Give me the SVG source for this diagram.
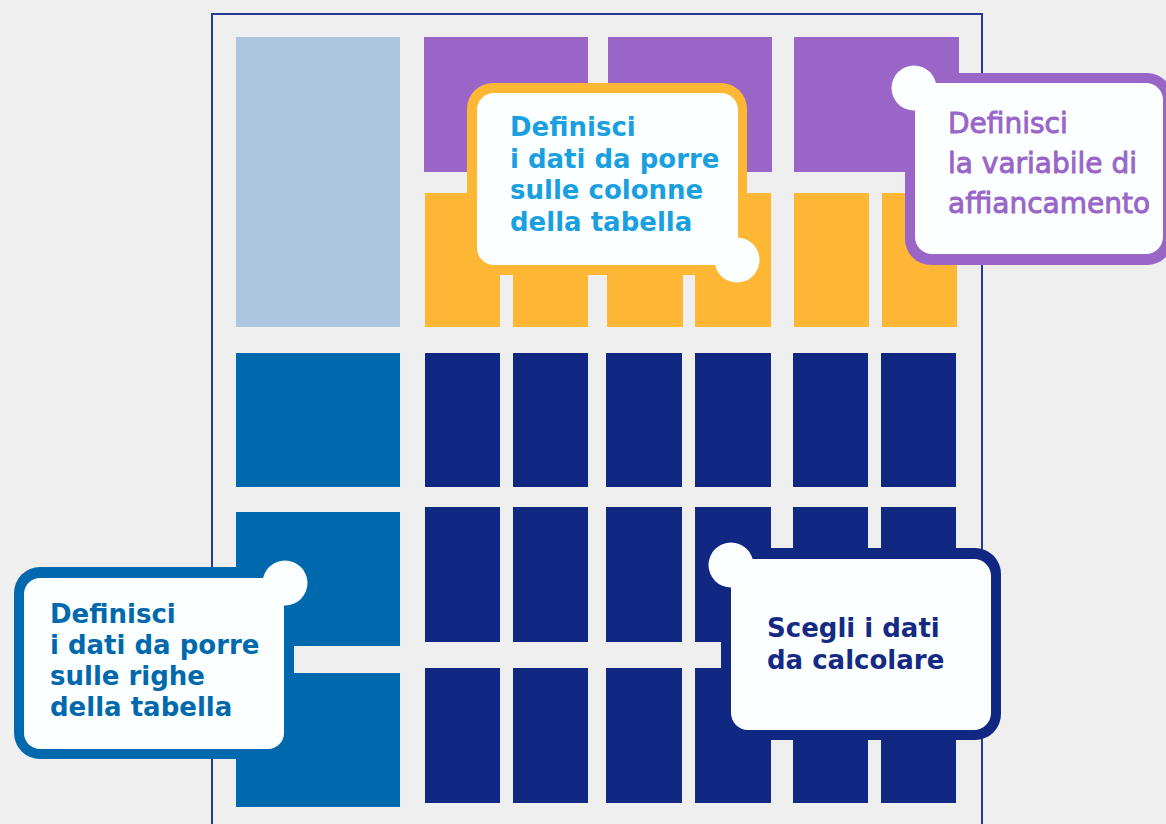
<svg xmlns="http://www.w3.org/2000/svg" width="1166" height="824" viewBox="0 0 1166 824">
<style>
.lb{fill:#adc6e0}
.pu{fill:#9966c8}
.or{fill:#fdb734}
.nv{fill:#112882}
.bl{fill:#0069ae}
.inner{fill:#fcffff}
.t{font-family:"DejaVu Sans","Verdana",sans-serif;font-weight:bold;font-size:26px}
.tp{font-family:"DejaVu Sans","Verdana",sans-serif;font-weight:normal;font-size:28px;fill:#9966c8;stroke:#9966c8;stroke-width:0.9}
</style>
<rect x="0" y="0" width="1166" height="824" fill="#efefef"/>
<rect x="212" y="14" width="770" height="830" fill="none" stroke="#2a3990" stroke-width="2"/>
<g id="grid">
  <rect class="lb" x="236" y="37" width="164" height="290"/>
  <rect class="pu" x="424" y="37" width="164" height="135"/>
  <rect class="pu" x="608" y="37" width="164" height="135"/>
  <rect class="pu" x="794" y="37" width="165" height="135"/>
  <rect class="or" x="425" y="193" width="75" height="134"/>
  <rect class="or" x="513" y="193" width="75" height="134"/>
  <rect class="or" x="607" y="193" width="76" height="134"/>
  <rect class="or" x="695" y="193" width="76" height="134"/>
  <rect class="or" x="794" y="193" width="75" height="134"/>
  <rect class="or" x="882" y="193" width="75" height="134"/>
  <rect class="bl" x="236" y="353" width="164" height="134"/>
  <rect class="bl" x="236" y="512" width="164" height="134"/>
  <rect class="bl" x="236" y="673" width="164" height="134"/>
  <g class="nv">
    <rect x="425" y="353" width="75" height="134"/><rect x="513" y="353" width="75" height="134"/><rect x="606" y="353" width="76" height="134"/><rect x="695" y="353" width="76" height="134"/><rect x="793" y="353" width="75" height="134"/><rect x="881" y="353" width="75" height="134"/>
    <rect x="425" y="507" width="75" height="135"/><rect x="513" y="507" width="75" height="135"/><rect x="606" y="507" width="76" height="135"/><rect x="695" y="507" width="76" height="135"/><rect x="793" y="507" width="75" height="135"/><rect x="881" y="507" width="75" height="135"/>
    <rect x="425" y="668" width="75" height="135"/><rect x="513" y="668" width="75" height="135"/><rect x="606" y="668" width="76" height="135"/><rect x="695" y="668" width="76" height="135"/><rect x="793" y="668" width="75" height="135"/><rect x="881" y="668" width="75" height="135"/>
  </g>
</g>
<g id="connectors"/>
<g id="callout-colonne">
  <rect x="467" y="83" width="280" height="192" rx="26" fill="#fdb734"/>
  <rect class="inner" x="477" y="93" width="261" height="172" rx="17"/>
  <circle class="inner" cx="737" cy="260" r="22.5"/>
  <text class="t" fill="#1a9fe0"><tspan x="510" y="136">Definisci</tspan><tspan x="510" y="167.5">i dati da porre</tspan><tspan x="510" y="199">sulle colonne</tspan><tspan x="510" y="230.5">della tabella</tspan></text>
</g>
<g id="callout-affiancamento">
  <rect x="905" y="73" width="268" height="192" rx="26" fill="#9966c8"/>
  <rect class="inner" x="915" y="83" width="248" height="171" rx="17"/>
  <circle class="inner" cx="914" cy="88" r="22.5"/>
  <text class="tp"><tspan x="948" y="132.5">Definisci</tspan><tspan x="948" y="173">la variabile di</tspan><tspan x="948" y="213">affiancamento</tspan></text>
</g>
<g id="callout-righe">
  <rect x="14" y="567" width="280" height="192" rx="26" fill="#0069ae"/>
  <rect class="inner" x="24" y="578" width="260" height="171" rx="16"/>
  <circle class="inner" cx="285" cy="583" r="22.5"/>
  <text class="t" fill="#0069ae"><tspan x="50" y="623">Definisci</tspan><tspan x="50" y="653.5">i dati da porre</tspan><tspan x="50" y="684.5">sulle righe</tspan><tspan x="50" y="715.5">della tabella</tspan></text>
</g>
<g id="callout-calcolare">
  <rect x="721" y="548" width="280" height="192" rx="26" fill="#112882"/>
  <rect class="inner" x="731" y="559" width="260" height="171" rx="17"/>
  <circle class="inner" cx="731" cy="565" r="22.5"/>
  <text class="t" fill="#152a85"><tspan x="767" y="637">Scegli i dati</tspan><tspan x="767" y="669">da calcolare</tspan></text>
</g>
</svg>
